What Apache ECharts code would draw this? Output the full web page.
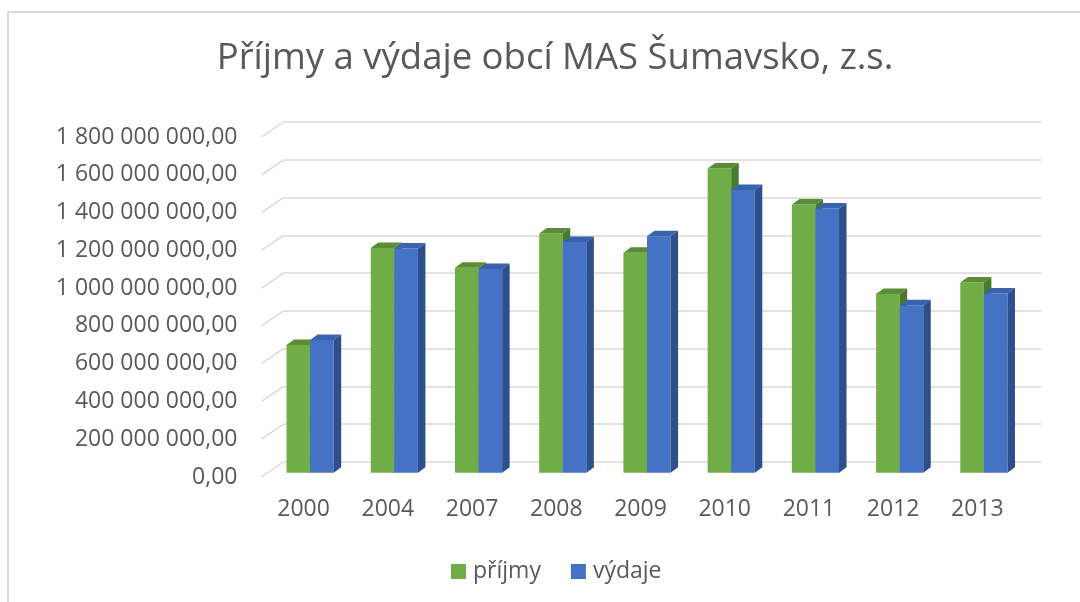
<!DOCTYPE html>
<html>
<head>
<meta charset="utf-8">
<script src="https://cdn.jsdelivr.net/npm/echarts@6/dist/echarts.min.js"></script>
<style>html,body{margin:0;padding:0;background:#fff}#c{width:1080px;height:602px}</style>
</head>
<body>
<div id="c"></div>
<script>
const categories = ['2000','2004','2007','2008','2009','2010','2011','2012','2013'];
const prijmy = [676e6, 1190e6, 1085e6, 1267e6, 1164e6, 1611e6, 1420e6, 946e6, 1007e6];
const vydaje = [702e6, 1187e6, 1079e6, 1222e6, 1252e6, 1496e6, 1399e6, 887e6, 949e6];
const yTickValues = [0, 200e6, 400e6, 600e6, 800e6, 1000e6, 1200e6, 1400e6, 1600e6, 1800e6];
const yTickLabels = ['0,00','200 000 000,00','400 000 000,00','600 000 000,00','800 000 000,00','1 000 000 000,00','1 200 000 000,00','1 400 000 000,00','1 600 000 000,00','1 800 000 000,00'];
const seriesNames = ['příjmy','výdaje'];

const FONT = '"Open Sans", sans-serif';
const TXT = '#595959';
const GRID_COLOR = '#d9d9d9';
// perspective offsets
const BACK_DX = 22, BACK_DY = -15;
const BAR_DX = 7.5, BAR_DY = -5.5;

const faces = {
  green: {front:'#70AD47', top:'#5B8C38', side:'#4A7A2C'},
  blue:  {front:'#4472C4', top:'#3A63AE', side:'#2D4F8C'}
};

function barRender(offsetSign, fc) {
  return function (params, api) {
    const idx = api.value(0);
    const val = api.value(1);
    const top = api.coord([idx, val]);
    const base = api.coord([idx, 0]);
    const band = api.size([1, 0])[0];
    const w = band * 0.28;
    const x0 = offsetSign < 0 ? top[0] - w : top[0];
    const x1 = x0 + w;
    const yT = top[1], yB = base[1];
    return {
      type: 'group',
      children: [
        {type:'rect', shape:{x:x0, y:yT, width:w, height:yB-yT}, style:{fill:fc.front}},
        {type:'polygon', shape:{points:[[x0,yT],[x0+BAR_DX,yT+BAR_DY],[x1+BAR_DX,yT+BAR_DY],[x1,yT]]}, style:{fill:fc.top}},
        {type:'polygon', shape:{points:[[x1,yT],[x1+BAR_DX,yT+BAR_DY],[x1+BAR_DX,yB+BAR_DY],[x1,yB]]}, style:{fill:fc.side}}
      ]
    };
  };
}

function diagRender(params, api) {
  const v = api.value(0);
  const p = api.coord([0, v]);
  const band = api.size([1, 0])[0];
  const x = p[0] - band / 2;
  return {
    type: 'line',
    shape: {x1: x, y1: p[1], x2: x + BACK_DX, y2: p[1] + BACK_DY},
    style: {stroke: GRID_COLOR, lineWidth: 1.5}
  };
}

const chart = echarts.init(document.getElementById('c'));
const W = 758, H = 340;
chart.setOption({
  animation: false,
  backgroundColor: '#fff',
  graphic: [{
    type: 'polyline', silent: true,
    shape: {points: [[8, 610], [8, 12], [1090, 12]]},
    style: {stroke: '#d9d9d9', lineWidth: 2, fill: null}
  }],
  title: {
    text: 'Příjmy a výdaje obcí MAS Šumavsko, z.s.',
    left: 550, top: 35, textAlign: 'center',
    textStyle: {fontFamily: FONT, fontSize: 36.5, fontWeight: 'normal', color: TXT}
  },
  legend: {
    data: seriesNames,
    left: 446, top: 555,
    icon: 'rect', itemWidth: 15, itemHeight: 15, itemGap: 30,
    textStyle: {fontFamily: FONT, fontSize: 23, color: TXT, padding: [0,0,0,2]}
  },
  grid: [
    {left: 261.5 + BACK_DX, top: 137 + BACK_DY, width: W, height: H},
    {left: 261.5, top: 137, width: W, height: H},
    {left: 261.5 + 6.5, top: 137 - 4.3, width: W, height: H}
  ],
  xAxis: [
    {gridIndex: 0, type: 'category', data: categories, show: false},
    {gridIndex: 1, type: 'category', data: categories,
      axisLine: {show: false}, axisTick: {show: false},
      axisLabel: {fontFamily: FONT, fontSize: 23, color: TXT, margin: 21}},
    {gridIndex: 2, type: 'category', data: categories, show: false}
  ],
  yAxis: [
    {gridIndex: 0, type: 'value', min: 0, max: 1800e6, interval: 200e6,
      axisLabel: {show: false}, axisLine: {show: false}, axisTick: {show: false},
      splitLine: {show: true, lineStyle: {color: GRID_COLOR, width: 1.5}}},
    {gridIndex: 1, type: 'value', min: 0, max: 1800e6, interval: 200e6,
      axisLine: {show: false}, axisTick: {show: false}, splitLine: {show: false},
      axisLabel: {fontFamily: FONT, fontSize: 23, color: TXT, margin: 24,
        formatter: function (v) { const i = yTickValues.indexOf(v); return i >= 0 ? yTickLabels[i] : ''; }}},
    {gridIndex: 2, type: 'value', min: 0, max: 1800e6, interval: 200e6, show: false}
  ],
  series: [
    {type: 'custom', name: 'grid-diag', xAxisIndex: 1, yAxisIndex: 1, silent: true,
      data: yTickValues.map(v => [v]), encode: {y: 0}, renderItem: diagRender, z: 1},
    {type: 'custom', name: seriesNames[0], xAxisIndex: 2, yAxisIndex: 2,
      itemStyle: {color: faces.green.front},
      data: prijmy.map((v, i) => [i, v]), encode: {x: 0, y: 1},
      renderItem: barRender(-1, faces.green), z: 2},
    {type: 'custom', name: seriesNames[1], xAxisIndex: 2, yAxisIndex: 2,
      itemStyle: {color: faces.blue.front},
      data: vydaje.map((v, i) => [i, v]), encode: {x: 0, y: 1},
      renderItem: barRender(1, faces.blue), z: 3}
  ]
});
</script>
</body>
</html>
